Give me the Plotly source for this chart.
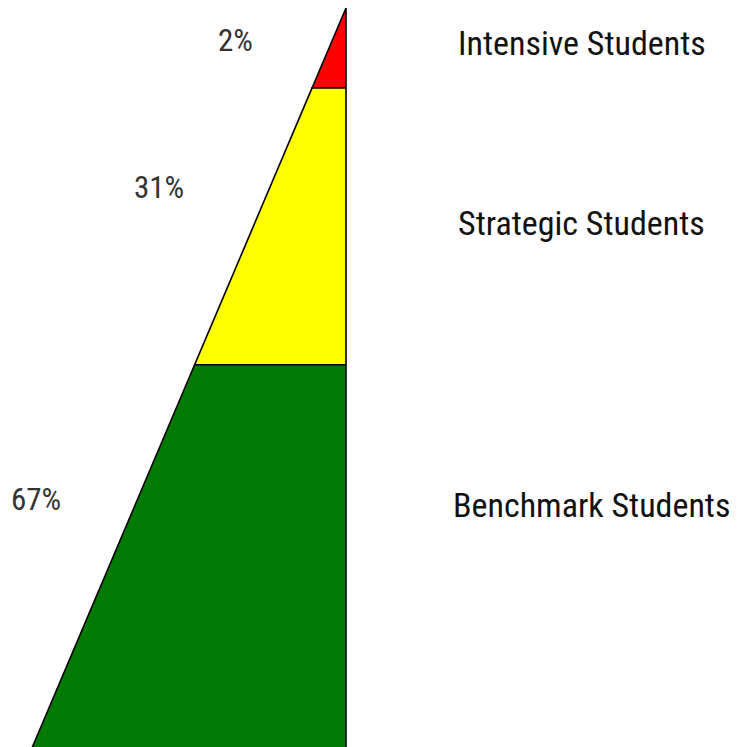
import plotly.graph_objects as go

tiers = ["Intensive Students", "Strategic Students", "Benchmark Students"]
pct_labels = ["2%", "31%", "67%"]
tier_bottom_depth = [10.8, 48.2, 100.0]   # depth (apex=0, base=100) where each tier ends
colors = ["#ff0000", "#ffff00", "#007a00"]

W, H = 737, 747
font_family = "Roboto Condensed, DejaVu Sans Condensed, sans-serif"

fig = go.Figure()
top = 0.0
for name, bottom, col in zip(tiers, tier_bottom_depth, colors):
    # half-pyramid: right edge vertical at x=0, left edge widens with depth
    xs = [0, 0, -bottom / 100.0, -top / 100.0, 0]
    ys = [top, bottom, bottom, top, top]
    fig.add_trace(go.Scatter(x=xs, y=ys, fill="toself", fillcolor=col,
                             mode="lines", line=dict(color="black", width=1.6),
                             hoverinfo="skip", showlegend=False, name=name))
    top = bottom

# label centres in pixels (layout/style)
pct_pos = [(235, 40), (159, 187), (36, 499)]
name_pos = [(582, 43), (581, 223), (591, 505)]

for t, (x, y) in zip(pct_labels, pct_pos):
    fig.add_annotation(x=x / W, y=1 - y / H, xref="paper", yref="paper", text=t,
                       showarrow=False, xanchor="center", yanchor="middle",
                       font=dict(family=font_family, size=31, color="#333333"))
for t, (x, y) in zip(tiers, name_pos):
    fig.add_annotation(x=x / W, y=1 - y / H, xref="paper", yref="paper", text=t,
                       showarrow=False, xanchor="center", yanchor="middle",
                       font=dict(family=font_family, size=34, color="#111111"))

px_per_unit = 7.4
fig.update_xaxes(visible=False, range=[-346 / 314, 391 / 314], fixedrange=True)
fig.update_yaxes(visible=False, range=[(747 - 8) / px_per_unit, -8 / px_per_unit], fixedrange=True)
fig.update_layout(width=W, height=H, margin=dict(l=0, r=0, t=0, b=0),
                  paper_bgcolor="white", plot_bgcolor="white")
fig.write_html("out.html")
